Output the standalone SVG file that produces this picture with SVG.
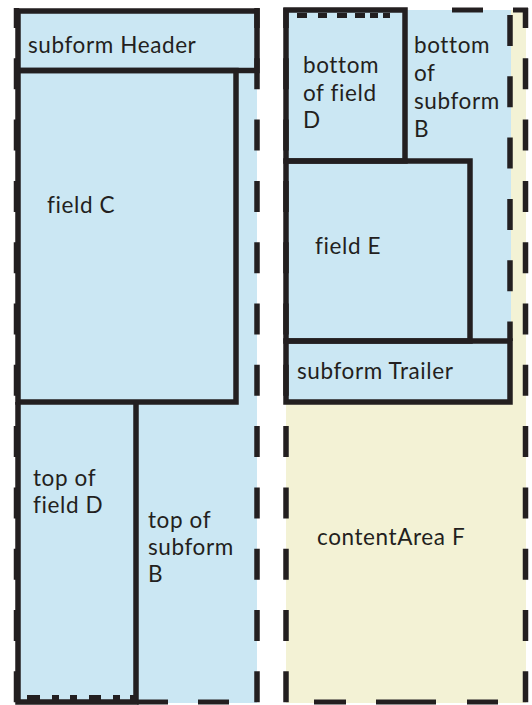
<svg xmlns="http://www.w3.org/2000/svg" width="532" height="705" viewBox="0 0 532 705">
<style>
.blue{fill:#cbe7f3}
.beige{fill:#f3f2d5}
.box{fill:none;stroke:#231f20;stroke-width:5.5;stroke-linejoin:miter}
.dash{fill:none;stroke:#231f20;stroke-width:5.5;stroke-dasharray:31 30.3;stroke-dashoffset:11}
.sq{fill:#231f20}
text{font-family:Lato,"Open Sans","Liberation Sans",sans-serif;font-size:22.5px;letter-spacing:0.6px;fill:#231f20}
</style>
<rect width="532" height="705" fill="#ffffff"/>
<g id="panel-left">
<rect class="blue" x="17" y="10" width="240" height="693"/>
</g>
<g id="panel-right">
<rect class="beige" x="286" y="10" width="240" height="693"/>
<rect class="blue" x="285" y="10" width="226" height="392"/>
</g>
<g id="subform-header">
<rect class="box" x="18" y="11" width="239" height="59.5"/>
<text x="28" y="53">subform Header</text>
</g>
<g id="field-c">
<rect class="box" x="18" y="70.5" width="218" height="331.5"/>
<text x="47" y="213">field C</text>
</g>
<g id="top-of-field-d">
<polyline class="box" points="18,402 18,702 136,702 136,402"/>
<rect class="sq" x="27" y="695" width="13" height="5"/>
<rect class="sq" x="52" y="695" width="7" height="5"/>
<rect class="sq" x="70" y="695" width="7" height="5"/>
<rect class="sq" x="89" y="695" width="12" height="5"/>
<rect class="sq" x="113" y="695" width="7" height="5"/>
<rect class="sq" x="130" y="695" width="5" height="5"/>
<text x="33" y="486">top of</text>
<text x="33" y="513">field D</text>
</g>
<g id="top-of-subform-b">
<text x="148" y="528">top of</text>
<text x="148" y="555">subform</text>
<text x="148" y="582">B</text>
</g>
<g id="bottom-of-field-d">
<rect class="box" x="286" y="10" width="119" height="151"/>
<rect class="sq" x="297" y="13" width="10" height="5"/>
<rect class="sq" x="318" y="13" width="9" height="5"/>
<rect class="sq" x="337" y="13" width="10" height="5"/>
<rect class="sq" x="355" y="13" width="10" height="5"/>
<rect class="sq" x="370" y="13" width="8" height="5"/>
<rect class="sq" x="383" y="13" width="7" height="5"/>
<text x="303" y="73">bottom</text>
<text x="303" y="101">of field</text>
<text x="303" y="128">D</text>
</g>
<g id="bottom-of-subform-b">
<text x="414" y="53">bottom</text>
<text x="414" y="81">of</text>
<text x="414" y="109">subform</text>
<text x="414" y="137">B</text>
</g>
<g id="field-e">
<rect class="box" x="286" y="161" width="184" height="180"/>
<text x="315" y="254">field E</text>
</g>
<g id="subform-trailer">
<rect class="box" x="286" y="341" width="224" height="61"/>
<text x="297" y="379">subform Trailer</text>
</g>
<g id="content-area-f">
<text x="317" y="545">contentArea F</text>
</g>
<g id="connectors">
<line class="dash" x1="16.5" y1="8" x2="16.5" y2="705"/>
<line class="dash" x1="257" y1="8" x2="257" y2="705"/>
<line class="dash" x1="286" y1="8" x2="286" y2="705"/>
<line class="dash" x1="525.5" y1="8" x2="525.5" y2="705"/>
<line class="dash" x1="510" y1="15" x2="510" y2="341" style="stroke-dashoffset:0"/>
<line x1="137" y1="702" x2="168" y2="702" stroke="#231f20" stroke-width="5"/>
<line x1="198" y1="702" x2="229" y2="702" stroke="#231f20" stroke-width="5"/>
<line x1="314" y1="702" x2="346" y2="702" stroke="#231f20" stroke-width="5"/>
<line x1="376" y1="702" x2="436" y2="702" stroke="#231f20" stroke-width="5"/>
<line x1="467" y1="702" x2="498" y2="702" stroke="#231f20" stroke-width="5"/>
<line x1="452" y1="10" x2="483" y2="10" stroke="#231f20" stroke-width="5"/>
<line x1="513" y1="10" x2="528" y2="10" stroke="#231f20" stroke-width="5"/>
</g>
</svg>
